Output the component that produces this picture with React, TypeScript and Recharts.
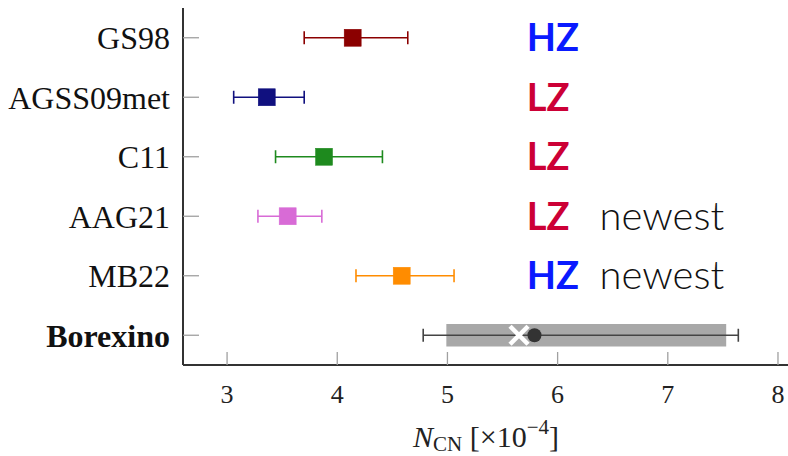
import React from 'react';
import { ScatterChart, Scatter, XAxis, YAxis, ErrorBar, Label } from 'recharts';

// ---- data ----
const rowLabels = ['GS98', 'AGSS09met', 'C11', 'AAG21', 'MB22', 'Borexino'];
const modelCenters = [4.14, 3.36, 3.88, 3.55, 4.585];
const modelLows = [3.70, 3.06, 3.44, 3.28, 4.17];
const modelHighs = [4.64, 3.70, 4.41, 3.86, 5.06];
const modelColors = ['#8b0000', '#10107f', '#1e8a1e', '#d86bd6', '#ff8c00'];

const borexinoBest = 5.79;
const borexinoLow = 4.78;
const borexinoHigh = 7.64;
const borexinoBandLow = 4.99;
const borexinoBandHigh = 7.53;
const borexinoAlt = 5.65;

const tags = ['HZ', 'LZ', 'LZ', 'LZ', 'HZ'];
const tagNotes = ['', '', '', 'newest', 'newest'];
const tagX = 5.72;
const noteX = 6.38;
const tagColors: Record<string, string> = { HZ: '#0a1aff', LZ: '#cc0036' };

const xTicks = [3, 4, 5, 6, 7, 8];
const xDomain = [2.6, 8.1];
const rowTicks = [0, 1, 2, 3, 4, 5];
const borexinoRow = 5;

// ---- derived tables ----
const modelData = rowLabels.slice(0, 5).map((name, i) => ({
  name,
  x: modelCenters[i],
  y: i,
  err: [modelCenters[i] - modelLows[i], modelHighs[i] - modelCenters[i]],
}));
const bandData = [{ x: borexinoBest, y: borexinoRow, err: [borexinoBest - borexinoBandLow, borexinoBandHigh - borexinoBest] }];
const boreLineData = [{ x: borexinoBest, y: borexinoRow, err: [borexinoBest - borexinoLow, borexinoHigh - borexinoBest] }];
const altData = [{ x: borexinoAlt, y: borexinoRow }];
const bestData = [{ x: borexinoBest, y: borexinoRow }];
const tagData = tags.map((t, i) => ({ x: tagX, y: i, tag: t }));
const noteData = tagNotes.map((n, i) => ({ x: noteX, y: i, note: n })).filter(d => d.note);

const serif = "'Liberation Serif', 'Times New Roman', serif";
const sans = "Lato, 'Open Sans', sans-serif";

const Nothing = () => <g />;

const Square = (color: string) => (p: any) => (
  <rect x={p.cx - 8.5} y={p.cy - 8.5} width={17} height={17} fill={color} stroke={color} strokeWidth={0.5} />
);

const Cross = (p: any) => (
  <g stroke="#ffffff" strokeWidth={4.5} strokeLinecap="butt">
    <line x1={p.cx - 9} y1={p.cy - 9} x2={p.cx + 9} y2={p.cy + 9} />
    <line x1={p.cx - 9} y1={p.cy + 9} x2={p.cx + 9} y2={p.cy - 9} />
  </g>
);

const Dot = (p: any) => <circle cx={p.cx} cy={p.cy} r={7} fill="#333333" />;

const TagShape = (p: any) => (
  <text x={p.cx} y={p.cy + 13.5} fontFamily={sans} fontWeight={700} fontSize={38} fill={tagColors[p.payload.tag]}>
    {p.payload.tag}
  </text>
);

const NoteShape = (p: any) => (
  <text x={p.cx} y={p.cy + 13.5} fontFamily={sans} fontWeight={300} fontSize={40} fill="#111111">
    {p.payload.note}
  </text>
);

const YTick = (props: any) => {
  const { x, y, payload } = props;
  const label = rowLabels[payload.value];
  const bold = label === 'Borexino';
  return (
    <text x={x} y={y} dy={11.5} textAnchor="end" fontFamily={serif} fontSize={32} fontWeight={bold ? 700 : 400} fill="#111111">
      {label}
    </text>
  );
};

const XTick = (props: any) => {
  const { x, y, payload } = props;
  return (
    <text x={x} y={y} dy={34.5} textAnchor="middle" fontFamily={serif} fontSize={26} fill="#222222">
      {payload.value}
    </text>
  );
};

const XLabel = (props: any) => {
  const vb = props.viewBox || {};
  const cx = vb.x + vb.width / 2;
  const by = vb.y + 82;
  return (
    <text x={cx} y={by} textAnchor="middle" fontFamily={serif} fontSize={30} fill="#222222">
      <tspan fontStyle="italic">N</tspan>
      <tspan fontSize={21} dy={4}>CN</tspan>
      <tspan dy={-4}>{' [×10'}</tspan>
      <tspan fontSize={21} dy={-13}>−4</tspan>
      <tspan dy={13}>]</tspan>
    </text>
  );
};

export default function App() {
  return (
    <div style={{ position: 'absolute', left: 0, top: 0, width: 788, height: 456, overflow: 'hidden', background: '#ffffff' }}>
      <ScatterChart width={800} height={456} margin={{ top: 8, right: 11, bottom: 0, left: 0 }}>
        <XAxis
          type="number"
          dataKey="x"
          xAxisId={0}
          domain={xDomain}
          allowDataOverflow
          ticks={xTicks}
          interval={0}
          height={91}
          tickSize={-13}
          tickMargin={16}
          tick={XTick}
          axisLine={{ stroke: '#333333', strokeWidth: 2 }}
          tickLine={{ stroke: '#a0a0a0', strokeWidth: 1.3 }}
        >
          <Label content={XLabel} />
        </XAxis>
        <XAxis
          type="number"
          xAxisId="top"
          orientation="top"
          domain={xDomain}
          allowDataOverflow
          ticks={xTicks}
          interval={0}
          height={0}
          tickSize={-14}
          tick={false}
          axisLine={{ stroke: '#555555', strokeWidth: 2 }}
          tickLine={{ stroke: '#a0a0a0', strokeWidth: 1.3 }}
        />
        <YAxis
          type="number"
          dataKey="y"
          yAxisId={0}
          domain={[-0.5, 5.5]}
          allowDataOverflow
          reversed
          ticks={rowTicks}
          interval={0}
          width={183}
          tickSize={-16}
          tickMargin={29}
          tick={YTick}
          axisLine={{ stroke: '#333333', strokeWidth: 2 }}
          tickLine={{ stroke: '#a0a0a0', strokeWidth: 1.3 }}
        />
        <YAxis
          type="number"
          yAxisId="right"
          orientation="right"
          domain={[-0.5, 5.5]}
          allowDataOverflow
          reversed
          ticks={rowTicks}
          interval={0}
          width={0}
          tickSize={-16}
          tick={false}
          axisLine={{ stroke: '#555555', strokeWidth: 2 }}
          tickLine={{ stroke: '#a0a0a0', strokeWidth: 1.3 }}
        />

        {modelData.map((d, i) => (
          <Scatter key={d.name} data={[d]} isAnimationActive={false} shape={Square(modelColors[i])}>
            <ErrorBar dataKey="err" direction="x" width={6.5} stroke={modelColors[i]} strokeWidth={1.6} isAnimationActive={false} />
          </Scatter>
        ))}

        <Scatter data={bandData} isAnimationActive={false} shape={Nothing}>
          <ErrorBar dataKey="err" direction="x" width={0} stroke="#a8a8a8" strokeWidth={22.7} isAnimationActive={false} />
        </Scatter>
        <Scatter data={boreLineData} isAnimationActive={false} shape={Nothing}>
          <ErrorBar dataKey="err" direction="x" width={6.5} stroke="#444444" strokeWidth={1.6} isAnimationActive={false} />
        </Scatter>
        <Scatter data={altData} isAnimationActive={false} shape={Cross} />
        <Scatter data={bestData} isAnimationActive={false} shape={Dot} />

        <Scatter data={tagData} isAnimationActive={false} shape={TagShape} />
        <Scatter data={noteData} isAnimationActive={false} shape={NoteShape} />
      </ScatterChart>
    </div>
  );
}
